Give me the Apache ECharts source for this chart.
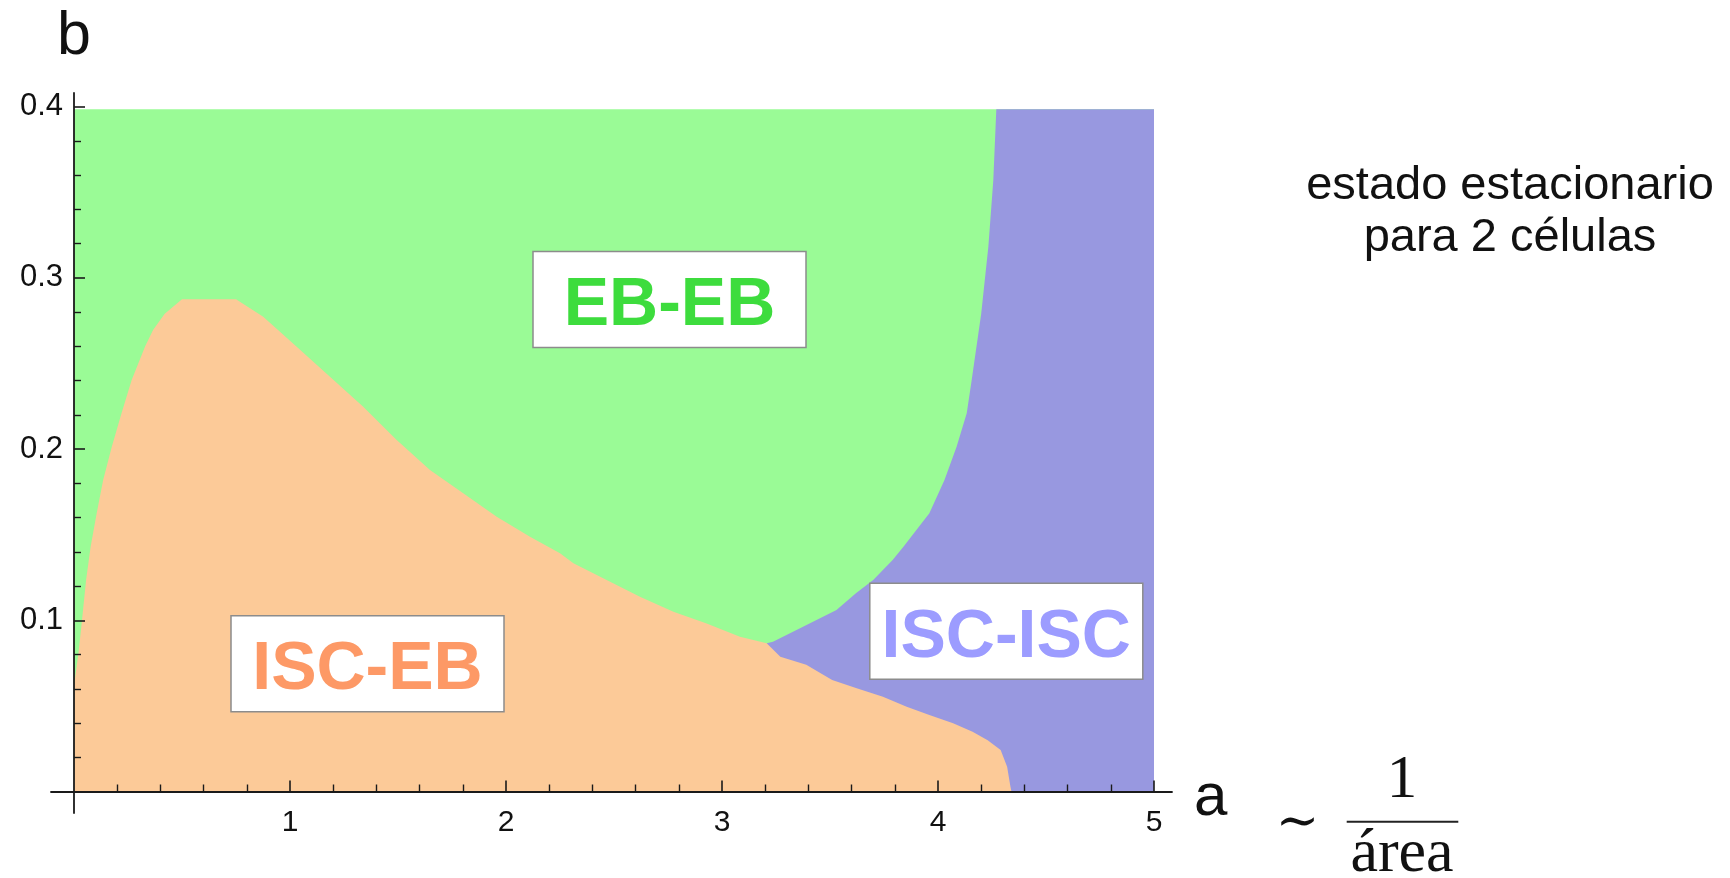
<!DOCTYPE html>
<html><head><meta charset="utf-8">
<script src="https://cdn.jsdelivr.net/npm/echarts@6/dist/echarts.min.js"></script>
<style>html,body{margin:0;padding:0;background:#fff}#c{width:1730px;height:878px}</style>
</head><body><div id="c"></div>
<script>
// ---- tick values ----
const xMajorTicks = [1, 2, 3, 4, 5];
const xMinorTicks = [0.2, 0.4, 0.6, 0.8, 1.2, 1.4, 1.6, 1.8, 2.2, 2.4, 2.6, 2.8, 3.2, 3.4, 3.6, 3.8, 4.2, 4.4, 4.6, 4.8];
const yMajorTicks = [0.1, 0.2, 0.3, 0.4];
const yMinorTicks = [0.02, 0.04, 0.06, 0.08, 0.12, 0.14, 0.16, 0.18, 0.22, 0.24, 0.26, 0.28, 0.32, 0.34, 0.36, 0.38];

// ---- regions (a on x, b on y) ----
const regionNames = ['EB-EB', 'ISC-EB', 'ISC-ISC'];
// EB-EB: whole sampled domain
const ebebA = [0, 5];
const ebebB = [0.3985, 0.3985];
// ISC-ISC: upper edge (border with EB-EB)
const iscIscA = [3.207, 3.236, 3.375, 3.53, 3.62, 3.70, 3.79, 3.84, 3.96, 4.03, 4.086, 4.133, 4.156, 4.20, 4.233, 4.256, 4.27, 5];
const iscIscB = [0.0866, 0.0875, 0.0963, 0.106, 0.1158, 0.1235, 0.1352, 0.143, 0.1625, 0.182, 0.2014, 0.221, 0.2403, 0.279, 0.318, 0.357, 0.3985, 0.3985];
// ISC-EB: upper edge
const iscEbA = [0, 0.02, 0.037, 0.056, 0.077, 0.105, 0.135, 0.175, 0.22, 0.267, 0.329, 0.366, 0.42, 0.5, 0.75, 0.876, 1.031, 1.185, 1.339, 1.494, 1.648, 1.802, 1.957, 2.111, 2.25, 2.312, 2.466, 2.62, 2.775, 2.929, 3.083, 3.207, 3.27, 3.39, 3.51, 3.62, 3.745, 3.855, 3.96, 4.07, 4.16, 4.23, 4.29, 4.32, 4.335, 4.34];
const iscEbB = [0.062, 0.08, 0.1, 0.1235, 0.143, 0.1625, 0.182, 0.2014, 0.221, 0.2404, 0.26, 0.2696, 0.279, 0.2875, 0.2875, 0.2773, 0.2598, 0.2423, 0.2248, 0.2053, 0.1878, 0.1742, 0.1605, 0.1488, 0.1391, 0.1333, 0.1235, 0.1138, 0.105, 0.0982, 0.0904, 0.0866, 0.0787, 0.074, 0.0651, 0.0604, 0.0554, 0.0495, 0.0447, 0.0398, 0.0349, 0.03, 0.0242, 0.0145, 0.003, 0];

const regionColors = ['#9afb96', '#fcca98', '#9898e0'];
const labelColors = ['#3ddc3d', '#fd9966', '#9c9cff'];

const zip = (xs, ys) => xs.map((x, i) => [x, ys[i]]);
const SANS = '"Liberation Sans", Arial, sans-serif';
const axisCol = '#1a1a1a';

function areaSeries(name, data, color) {
  return {
    name, type: 'line', data, symbol: 'none', silent: true,
    lineStyle: { width: 0, color },
    areaStyle: { color, opacity: 1, origin: 0 },
    xAxisIndex: 0, yAxisIndex: 0
  };
}

function boxLabel(cx, cy, text, color) {
  return {
    type: 'group', z: 100, children: [
      { type: 'rect', z: 100, shape: { x: cx - 136.5, y: cy - 48, width: 273, height: 96 },
        style: { fill: '#ffffff', stroke: '#8c8c8c', lineWidth: 1.5 } },
      { type: 'text', z: 101, x: cx, y: cy + 7,
        style: { text, fill: color, font: 'bold 68px ' + SANS, textAlign: 'center', textVerticalAlign: 'middle', align: 'center', verticalAlign: 'middle' } }
    ]
  };
}

const chart = echarts.init(document.getElementById('c'), null, { renderer: 'canvas' });
const option = {
  animation: false,
  backgroundColor: '#ffffff',
  grid: { left: 51, right: 558, top: 93, bottom: 65, containLabel: false },
  xAxis: [
    {
      type: 'value', min: -0.1065, max: 5.0833, position: 'bottom', z: 10,
      name: 'a', nameLocation: 'end', nameGap: 22,
      nameTextStyle: { fontFamily: SANS, fontSize: 60, color: '#111', verticalAlign: 'top', lineHeight: 14 },
      axisLine: { show: true, onZero: true, lineStyle: { color: axisCol, width: 1.8 } },
      axisTick: { show: true, inside: true, length: 11, customValues: xMajorTicks, lineStyle: { color: axisCol, width: 1.6 } },
      axisLabel: { show: true, customValues: xMajorTicks, margin: -5, fontFamily: SANS, fontSize: 30, color: '#111' },
      splitLine: { show: false }
    },
    {
      type: 'value', min: -0.1065, max: 5.0833, position: 'bottom', z: 10,
      axisLine: { show: false, onZero: true },
      axisTick: { show: true, inside: true, length: 7, customValues: xMinorTicks, lineStyle: { color: axisCol, width: 1.4 } },
      axisLabel: { show: false },
      splitLine: { show: false }
    }
  ],
  yAxis: [
    {
      type: 'value', min: -0.01256, max: 0.408, position: 'left', z: 10,
      name: 'b', nameLocation: 'end', nameGap: 25,
      nameTextStyle: { fontFamily: SANS, fontSize: 61, color: '#111' },
      axisLine: { show: true, onZero: true, lineStyle: { color: axisCol, width: 1.8 } },
      axisTick: { show: true, inside: true, length: 11, customValues: yMajorTicks, lineStyle: { color: axisCol, width: 1.6 } },
      axisLabel: { show: true, customValues: yMajorTicks, margin: -12, fontFamily: SANS, fontSize: 31, color: '#111' },
      splitLine: { show: false }
    },
    {
      type: 'value', min: -0.01256, max: 0.408, position: 'left', z: 10,
      axisLine: { show: false, onZero: true },
      axisTick: { show: true, inside: true, length: 7, customValues: yMinorTicks, lineStyle: { color: axisCol, width: 1.4 } },
      axisLabel: { show: false },
      splitLine: { show: false }
    }
  ],
  series: [
    areaSeries(regionNames[0], zip(ebebA, ebebB), regionColors[0]),
    areaSeries(regionNames[2], zip(iscIscA, iscIscB), regionColors[2]),
    areaSeries(regionNames[1], zip(iscEbA, iscEbB), regionColors[1])
  ],
  graphic: [
    boxLabel(669.5, 299.5, regionNames[0], labelColors[0]),
    boxLabel(367.5, 663.7, regionNames[1], labelColors[1]),
    boxLabel(1006.3, 631.2, regionNames[2], labelColors[2]),
    { type: 'text', x: 1510, y: 160, z: 100,
      style: { text: 'estado estacionario\npara 2 células', fill: '#111', font: '47px ' + SANS, lineHeight: 52,
        textAlign: 'center', align: 'center', textVerticalAlign: 'top', verticalAlign: 'top' } },
    { type: 'text', x: 1297.5, y: 824, z: 100,
      style: { text: '\u223C', fill: '#111', font: '52px "DejaVu Serif", serif', textAlign: 'center', align: 'center', textVerticalAlign: 'middle', verticalAlign: 'middle' } },
    { type: 'text', x: 1402, y: 781.4, z: 100,
      style: { text: '1', fill: '#111', font: '61px "Liberation Serif", serif', textAlign: 'center', align: 'center', textVerticalAlign: 'middle', verticalAlign: 'middle' } },
    { type: 'line', z: 100, shape: { x1: 1346.7, y1: 821.7, x2: 1458.3, y2: 821.7 }, style: { stroke: '#222', lineWidth: 2 } },
    { type: 'text', x: 1402, y: 854.7, z: 100,
      style: { text: 'área', fill: '#111', font: '62px "Liberation Serif", serif', textAlign: 'center', align: 'center', textVerticalAlign: 'middle', verticalAlign: 'middle' } }
  ]
};
chart.setOption(option);
</script>
</body></html>
